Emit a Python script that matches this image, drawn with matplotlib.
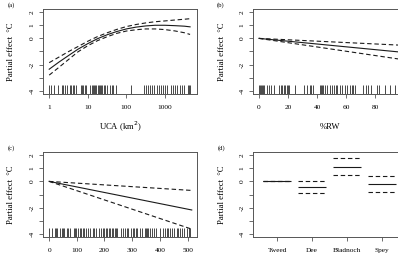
import matplotlib
matplotlib.use("Agg")
import matplotlib.pyplot as plt
import numpy as np

plt.rcParams['font.family'] = ['Liberation Serif', 'DejaVu Serif']
plt.rcParams['axes.unicode_minus'] = False
plt.rcParams['lines.scale_dashes'] = False

# (a) UCA smooth
uca = [1, 1.8, 3.2, 5.6, 10, 18, 32, 56, 100, 180, 320, 560, 1000, 1800, 3200, 4500]
uca_fit = [-2.35, -1.8, -1.3, -0.82, -0.4, -0.02, 0.28, 0.52, 0.72, 0.86, 0.95, 1.0, 1.0, 0.97, 0.93, 0.88]
uca_hi = [-1.85, -1.42, -1.0, -0.62, -0.22, 0.14, 0.43, 0.68, 0.9, 1.06, 1.18, 1.27, 1.33, 1.4, 1.46, 1.5]
uca_lo = [-2.8, -2.2, -1.6, -1.02, -0.56, -0.17, 0.13, 0.38, 0.56, 0.66, 0.72, 0.72, 0.67, 0.57, 0.43, 0.3]
uca_rug = [1.0, 1.1, 1.3, 1.65, 2.1, 2.3, 2.6, 2.9, 3.4, 3.7, 4.1, 4.5, 4.9, 6.5, 7.0, 7.6,
           8.3, 8.9, 11.5, 12.5, 13.5, 14.5, 15.5, 16.5, 18, 19.5, 21, 22.5, 24, 26, 28, 31,
           38, 42, 45, 55, 132, 295, 330, 370, 420, 470, 515, 620, 700, 780, 890, 1000,
           1150, 1420, 1600, 1850, 2100, 2400, 2750, 3160, 3870, 4200, 4500]

# (b) %RW linear term
rw = [0, 98]
rw_fit = [0, -1.05]
rw_hi = [0, -0.52]
rw_lo = [0, -1.6]
rw_rug = [0, 0.7, 1.4, 2.1, 2.8, 3.4, 5.5, 6.9, 8.5, 10.3, 14, 15, 16, 17, 18, 19, 20, 21,
          24.6, 31, 33, 35, 36, 37, 42, 42.7, 43.4, 44, 45.5, 47, 49, 50, 51.5, 53, 54, 56,
          57.5, 59, 61, 62.5, 64, 65, 66, 72, 73.5, 75, 77, 81, 83, 87, 90, 94]

# (c) third covariate linear term
cx = [0, 515]
c_fit = [0, -2.18]
c_hi = [0, -0.69]
c_lo = [0, -3.64]
c_rug = [0, 11, 23, 26, 30, 40, 47, 51, 55, 64, 68, 74, 89, 93, 97, 103, 110, 115, 121, 127,
         132, 140, 147, 157, 161, 171, 181, 186, 193, 200, 205, 210, 215, 220, 227, 232, 237,
         242, 246, 258, 268, 274, 280, 285, 295, 302, 308, 314, 319, 329, 336, 345, 350, 354,
         358, 365, 371, 377, 387, 401, 413, 419, 425, 431, 438, 445, 452, 460, 467, 474, 480,
         486, 498, 504, 510]

# (d) river factor
rivers = ['Tweed', 'Dee', 'Bladnoch', 'Spey']
river_fit = [0, -0.42, 1.12, -0.23]
river_hi = [0, 0.0, 1.76, 0.38]
river_lo = [0, -0.88, 0.48, -0.79]

W, H = 398, 266
fig = plt.figure(figsize=(W / 100, H / 100), dpi=100)

def px_axes(left, top, right, bottom):
    return fig.add_axes([left / W, 1 - bottom / H, (right - left) / W, (bottom - top) / H])

lc = '#1a1a1a'
dash = (0, (3.2, 2.0))
ylab = 'Partial effect  \u00b0C'

def style(ax):
    ax.set_ylim(-4.24, 2.24)
    ax.set_yticks(range(-4, 3))
    ax.set_yticklabels(['-4', '', '-2', '', '0', '1', '2'], rotation=90, va='center')
    for s in ax.spines.values():
        s.set_color('#555555')
        s.set_linewidth(0.7)
    ax.tick_params(length=3.2, width=0.6, color='#555555', labelsize=5.3, direction='out')
    ax.tick_params(axis='x', pad=4.5)
    ax.tick_params(axis='y', pad=3.0)
    ax.set_ylabel(ylab, fontsize=6.2)
    ax.yaxis.set_label_coords(-(43 - 11.5) / 154, 0.5)
    ax.yaxis.label.set_va('center')
    ax.set_facecolor('white')

def rug(ax, vals):
    ax.vlines(vals, 0, 0.11, transform=ax.get_xaxis_transform(), color='black', lw=0.5)

def xlab(ax, text):
    ax.set_xlabel(text, fontsize=6.2)
    ax.xaxis.set_label_coords(0.5, -(127 - 94) / 85)
    ax.xaxis.label.set_va('center')

ax_a = px_axes(43, 9, 197, 94)
ax_b = px_axes(253, 9, 407, 94)
ax_c = px_axes(43, 152, 197, 237)
ax_d = px_axes(253, 152, 407, 237)

# (a)
ax_a.set_xscale('log')
ax_a.plot(uca, uca_fit, color=lc, lw=0.8)
ax_a.plot(uca, uca_hi, color=lc, lw=0.8, ls=dash)
ax_a.plot(uca, uca_lo, color=lc, lw=0.8, ls=dash)
rug(ax_a, uca_rug)
ax_a.set_xlim(0.69, 6800)
ax_a.set_xticks([1, 10, 100, 1000])
ax_a.set_xticklabels(['1', '10', '100', '1000'])
ax_a.minorticks_off()
style(ax_a)
xlab(ax_a, 'UCA (km$^2$)')

# (b)
ax_b.plot(rw, rw_fit, color=lc, lw=0.8)
ax_b.plot(rw, rw_hi, color=lc, lw=0.8, ls=dash)
ax_b.plot(rw, rw_lo, color=lc, lw=0.8, ls=dash)
rug(ax_b, rw_rug)
ax_b.set_xlim(-4.1, 102)
ax_b.set_xticks([0, 20, 40, 60, 80])
style(ax_b)
xlab(ax_b, '%RW')

# (c)
ax_c.plot(cx, c_fit, color=lc, lw=0.8)
ax_c.plot(cx, c_hi, color=lc, lw=0.8, ls=dash)
ax_c.plot(cx, c_lo, color=lc, lw=0.8, ls=dash)
rug(ax_c, c_rug)
ax_c.set_xlim(-22, 534)
ax_c.set_xticks([0, 100, 200, 300, 400, 500])
style(ax_c)

# (d)
pos = np.arange(1, len(rivers) + 1)
ax_d.hlines(river_fit, pos - 0.4, pos + 0.4, color=lc, lw=0.8)
ax_d.hlines(river_hi, pos - 0.4, pos + 0.4, color=lc, lw=0.8, linestyles=[dash])
ax_d.hlines(river_lo, pos - 0.4, pos + 0.4, color=lc, lw=0.8, linestyles=[dash])
ax_d.set_xlim(0.31, 4.71)
ax_d.set_xticks(pos)
ax_d.set_xticklabels(rivers)
style(ax_d)

for lab, x, y in [('(a)', 11, 5), ('(b)', 221, 5), ('(c)', 11, 148), ('(d)', 222, 148)]:
    fig.text(x / W, 1 - y / H, lab, fontsize=4.8, ha='center', va='center')

fig.savefig('out.png', dpi=100)
